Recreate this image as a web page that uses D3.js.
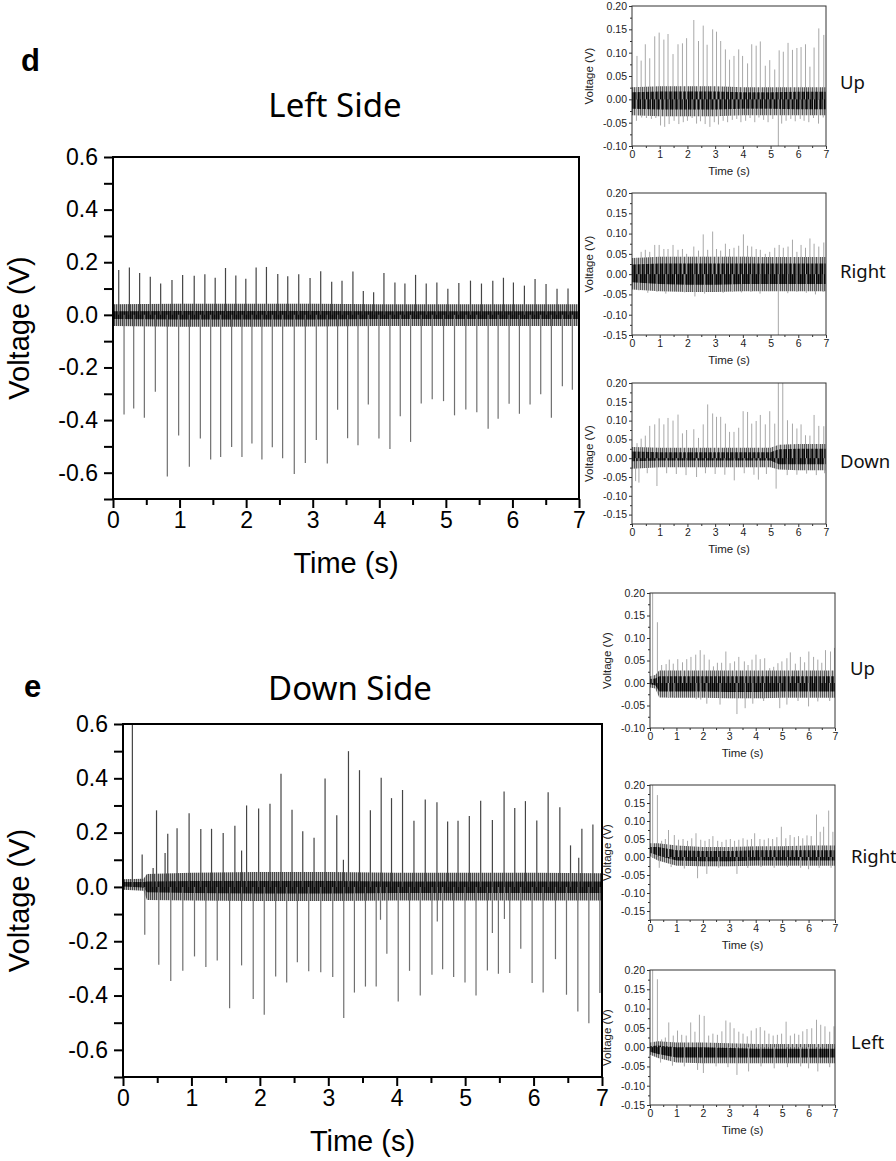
<!DOCTYPE html>
<html><head><meta charset="utf-8">
<script src="https://cdn.jsdelivr.net/npm/d3@7"></script>
<style>body{margin:0;background:#fff}svg{display:block}</style>
</head><body>
<svg id="c" width="896" height="1161"></svg>
<script>
// ---------- shared ticks ----------
const timeTicks = [0,1,2,3,4,5,6,7];
const timeMinor = [0.5,1.5,2.5,3.5,4.5,5.5,6.5];

// ---------- d : Left Side (main) ----------
const dMainPeakT = [0.086,0.246,0.40,0.56,0.716,0.886,1.046,1.22,1.38,1.535,1.69,1.845,1.995,2.15,2.305,2.475,2.625,2.79,2.96,3.12,3.285,3.44,3.604,3.76,3.915,4.07,4.235,4.385,4.545,4.705,4.865,5.03,5.195,5.37,5.535,5.705,5.865,6.015,6.18,6.34,6.505,6.67,6.835];
const dMainPeakV = [0.170,0.180,0.159,0.145,0.119,0.132,0.151,0.149,0.154,0.141,0.178,0.150,0.137,0.180,0.182,0.155,0.147,0.154,0.140,0.166,0.126,0.130,0.165,0.091,0.086,0.159,0.123,0.119,0.152,0.119,0.123,0.099,0.121,0.130,0.119,0.130,0.141,0.123,0.111,0.136,0.117,0.099,0.100];
const dMainTroughT = [0.166,0.311,0.471,0.636,0.816,0.986,1.147,1.312,1.467,1.617,1.782,1.937,2.087,2.237,2.393,2.548,2.723,2.889,3.054,3.219,3.374,3.524,3.68,3.835,3.995,4.16,4.315,4.47,4.63,4.795,4.965,5.13,5.30,5.465,5.635,5.785,5.95,6.105,6.265,6.425,6.585,6.75,6.90];
const dMainTroughV = [-0.379,-0.356,-0.391,-0.292,-0.614,-0.459,-0.577,-0.470,-0.550,-0.540,-0.502,-0.540,-0.489,-0.550,-0.503,-0.545,-0.605,-0.563,-0.476,-0.565,-0.361,-0.469,-0.496,-0.341,-0.470,-0.510,-0.385,-0.483,-0.337,-0.321,-0.328,-0.382,-0.360,-0.370,-0.433,-0.395,-0.338,-0.376,-0.341,-0.302,-0.391,-0.271,-0.285];
const dMainBandT = [0,1,2,3,4,5,6,7];
const dMainOuterHi = [0.040,0.042,0.042,0.042,0.040,0.040,0.040,0.040];
const dMainOuterLo = [-0.042,-0.045,-0.045,-0.044,-0.042,-0.042,-0.042,-0.042];
const dMainCoreHi = [0.014,0.015,0.015,0.015,0.014,0.014,0.014,0.014];
const dMainCoreLo = [-0.016,-0.018,-0.018,-0.018,-0.016,-0.016,-0.016,-0.016];

// ---------- e : Down Side (main) ----------
const eMainPeakT = [0.137,0.28,0.44,0.49,0.615,0.654,0.79,0.966,1.137,1.294,1.464,1.635,1.733,1.806,1.982,2.148,2.309,2.47,2.627,2.792,2.953,3.124,3.221,3.295,3.456,3.615,3.773,3.924,4.085,4.252,4.417,4.588,4.744,4.896,5.061,5.227,5.398,5.569,5.725,5.881,6.047,6.213,6.384,6.54,6.66,6.706,6.867];
const eMainPeakV = [0.65,0.119,0.07,0.282,0.125,0.196,0.216,0.271,0.213,0.214,0.199,0.225,0.134,0.30,0.289,0.306,0.417,0.284,0.205,0.181,0.399,0.264,0.10,0.50,0.43,0.282,0.402,0.327,0.357,0.244,0.322,0.312,0.241,0.244,0.261,0.317,0.246,0.351,0.291,0.316,0.245,0.349,0.293,0.153,0.107,0.214,0.23];
const eMainTroughT = [0.318,0.523,0.698,0.874,1.045,1.211,1.377,1.558,1.733,1.903,2.064,2.231,2.392,2.548,2.714,2.89,3.065,3.226,3.382,3.543,3.70,3.763,3.856,4.022,4.187,4.344,4.515,4.593,4.671,4.832,4.998,5.159,5.325,5.398,5.486,5.574,5.652,5.813,5.979,6.14,6.32,6.481,6.647,6.808,6.969];
const eMainTroughV = [-0.176,-0.287,-0.346,-0.309,-0.256,-0.295,-0.271,-0.447,-0.289,-0.413,-0.471,-0.33,-0.352,-0.277,-0.311,-0.314,-0.332,-0.483,-0.389,-0.367,-0.367,-0.121,-0.246,-0.422,-0.309,-0.40,-0.323,-0.127,-0.303,-0.332,-0.352,-0.40,-0.308,-0.17,-0.32,-0.118,-0.317,-0.228,-0.354,-0.389,-0.266,-0.397,-0.459,-0.502,-0.391];
const eMainBandT = [0,0.3,0.35,1,2,3,4,5,6,7];
const eMainOuterHi = [0.028,0.030,0.048,0.052,0.055,0.055,0.052,0.052,0.052,0.050];
const eMainOuterLo = [-0.010,-0.014,-0.048,-0.050,-0.052,-0.052,-0.050,-0.050,-0.050,-0.050];
const eMainCoreHi = [0.018,0.018,0.020,0.022,0.022,0.022,0.020,0.020,0.020,0.020];
const eMainCoreLo = [0.002,-0.002,-0.020,-0.022,-0.024,-0.024,-0.022,-0.022,-0.022,-0.022];

// ---------- d small : Up ----------
const dUpPeakT = [0.18,0.33,0.48,0.64,0.82,0.98,1.15,1.30,1.48,1.66,1.82,1.97,2.23,2.40,2.57,2.71,2.91,3.05,3.20,3.37,3.52,3.68,3.85,3.99,4.17,4.32,4.48,4.63,4.81,4.97,5.15,5.31,5.46,5.63,5.79,5.95,6.10,6.26,6.42,6.57,6.74,6.92];
const dUpPeakV = [0.093,0.083,0.118,0.088,0.135,0.143,0.128,0.140,0.097,0.118,0.120,0.131,0.170,0.125,0.158,0.117,0.150,0.145,0.125,0.107,0.085,0.093,0.107,0.093,0.077,0.118,0.115,0.124,0.072,0.084,0.064,0.105,0.102,0.121,0.106,0.110,0.112,0.118,0.070,0.111,0.152,0.138];
const dUpTroughT = [0.16,0.35,0.52,0.70,0.86,1.03,1.18,1.34,1.52,1.69,1.85,2.00,2.17,2.33,2.47,2.64,2.81,2.97,3.12,3.29,3.45,3.62,3.78,3.93,4.10,4.26,4.43,4.58,4.75,4.91,5.08,5.28,5.40,5.56,5.73,5.89,6.07,6.21,6.38,6.55,6.73,6.90];
const dUpTroughV = [-0.046,-0.039,-0.040,-0.042,-0.040,-0.056,-0.059,-0.053,-0.046,-0.053,-0.049,-0.046,-0.040,-0.052,-0.047,-0.053,-0.059,-0.049,-0.054,-0.046,-0.049,-0.044,-0.042,-0.049,-0.046,-0.040,-0.049,-0.039,-0.044,-0.049,-0.042,-0.100,-0.052,-0.046,-0.042,-0.047,-0.042,-0.046,-0.049,-0.040,-0.052,-0.039];
const dUpBandT = [0,1,2,3,4,5,6,7];
const dUpOuterHi = [0.026,0.028,0.028,0.028,0.026,0.026,0.026,0.026];
const dUpOuterLo = [-0.034,-0.036,-0.036,-0.036,-0.034,-0.034,-0.034,-0.034];
const dUpCoreHi = [0.015,0.017,0.017,0.017,0.015,0.015,0.016,0.016];
const dUpCoreLo = [-0.020,-0.022,-0.022,-0.022,-0.020,-0.020,-0.021,-0.021];

// ---------- d small : Right ----------
const dRightPeakT = [0.18,0.33,0.48,0.64,0.82,0.98,1.15,1.30,1.48,1.66,1.82,1.97,2.23,2.40,2.57,2.73,2.91,3.05,3.20,3.37,3.52,3.68,3.85,4.02,4.17,4.32,4.48,4.63,4.81,4.97,5.15,5.31,5.46,5.63,5.79,5.95,6.10,6.26,6.42,6.57,6.74,6.92];
const dRightPeakV = [0.040,0.055,0.060,0.055,0.072,0.072,0.062,0.062,0.072,0.060,0.062,0.050,0.068,0.058,0.098,0.060,0.105,0.062,0.058,0.075,0.062,0.065,0.070,0.098,0.070,0.068,0.062,0.060,0.050,0.055,0.065,0.072,0.065,0.068,0.085,0.055,0.072,0.065,0.088,0.075,0.068,0.078];
const dRightTroughT = [0.25,0.57,0.90,1.22,1.57,1.90,2.27,2.62,2.95,3.29,3.62,3.95,4.29,4.62,4.95,5.28,5.62,5.95,6.29,6.62,6.90];
const dRightTroughV = [-0.040,-0.046,-0.044,-0.048,-0.042,-0.045,-0.055,-0.048,-0.044,-0.046,-0.042,-0.045,-0.044,-0.048,-0.042,-0.150,-0.047,-0.044,-0.046,-0.050,-0.044];
const dRightBandT = [0,1,2,3,4,5,6,7];
const dRightOuterHi = [0.040,0.043,0.043,0.043,0.043,0.042,0.042,0.042];
const dRightOuterLo = [-0.038,-0.042,-0.044,-0.044,-0.042,-0.042,-0.042,-0.042];
const dRightCoreHi = [0.024,0.026,0.026,0.026,0.026,0.026,0.026,0.026];
const dRightCoreLo = [-0.020,-0.024,-0.026,-0.026,-0.024,-0.024,-0.024,-0.024];

// ---------- d small : Down ----------
const dDownPeakT = [0.18,0.33,0.48,0.64,0.82,0.98,1.15,1.30,1.48,1.66,1.82,1.97,2.23,2.40,2.57,2.73,2.91,3.05,3.20,3.37,3.52,3.68,3.85,4.01,4.17,4.32,4.48,4.63,4.81,4.97,5.15,5.28,5.44,5.61,5.79,5.95,6.10,6.26,6.42,6.57,6.74,6.92];
const dDownPeakV = [0.040,0.052,0.060,0.086,0.090,0.106,0.090,0.107,0.100,0.116,0.066,0.075,0.077,0.054,0.090,0.143,0.119,0.110,0.110,0.092,0.070,0.070,0.081,0.125,0.123,0.092,0.099,0.115,0.090,0.125,0.092,0.25,0.25,0.101,0.092,0.079,0.090,0.061,0.060,0.115,0.086,0.085];
const dDownTroughT = [0.13,0.25,0.55,0.90,1.25,1.60,1.95,2.33,2.65,3.00,3.35,3.69,4.05,4.40,4.56,4.85,5.20,5.60,5.95,6.30,6.65,6.95];
const dDownTroughV = [-0.061,-0.065,-0.040,-0.074,-0.040,-0.042,-0.045,-0.050,-0.040,-0.042,-0.044,-0.059,-0.040,-0.044,-0.057,-0.042,-0.081,-0.045,-0.044,-0.041,-0.045,-0.040];
const dDownBandT = [0,1,2,3,4,5,5.3,6,7];
const dDownOuterHi = [0.030,0.028,0.028,0.028,0.028,0.028,0.036,0.038,0.038];
const dDownOuterLo = [-0.028,-0.024,-0.024,-0.024,-0.024,-0.024,-0.030,-0.032,-0.032];
const dDownCoreHi = [0.018,0.016,0.016,0.016,0.016,0.016,0.024,0.025,0.025];
const dDownCoreLo = [-0.008,-0.006,-0.006,-0.006,-0.006,-0.006,-0.016,-0.016,-0.016];

// ---------- e small : Up ----------
const eUpPeakT = [0.10,0.28,0.44,0.61,0.73,0.88,1.05,1.23,1.39,1.55,1.73,1.90,2.05,2.24,2.40,2.55,2.71,2.87,3.03,3.20,3.36,3.57,3.71,3.86,4.01,4.17,4.34,4.53,4.68,4.84,4.99,5.18,5.31,5.50,5.69,5.85,6.01,6.19,6.35,6.50,6.64,6.83,6.98];
const eUpPeakV = [0.25,0.135,0.040,0.042,0.052,0.043,0.053,0.046,0.053,0.058,0.063,0.073,0.063,0.052,0.037,0.045,0.045,0.070,0.044,0.048,0.058,0.048,0.040,0.052,0.063,0.053,0.055,0.033,0.036,0.044,0.048,0.055,0.068,0.043,0.058,0.046,0.070,0.058,0.052,0.045,0.073,0.070,0.078];
const eUpTroughT = [0.70,0.91,1.75,1.92,2.15,2.65,3.29,3.60,3.89,4.30,4.91,5.18,5.60,6.00,6.35,6.80];
const eUpTroughV = [-0.033,-0.030,-0.036,-0.037,-0.046,-0.048,-0.069,-0.056,-0.046,-0.040,-0.056,-0.048,-0.040,-0.052,-0.041,-0.040];
const eUpBandT = [0,0.2,0.35,1,2,3,4,5,6,7];
const eUpOuterHi = [0.015,0.018,0.028,0.028,0.028,0.028,0.028,0.028,0.028,0.028];
const eUpOuterLo = [-0.010,-0.012,-0.032,-0.033,-0.033,-0.034,-0.034,-0.033,-0.033,-0.033];
const eUpCoreHi = [0.009,0.010,0.015,0.015,0.015,0.015,0.015,0.015,0.015,0.015];
const eUpCoreLo = [-0.003,-0.005,-0.019,-0.019,-0.019,-0.020,-0.020,-0.019,-0.019,-0.019];

// ---------- e small : Right ----------
const eRightPeakT = [0.10,0.28,0.44,0.58,0.70,0.92,1.08,1.25,1.42,1.58,1.74,1.92,2.08,2.24,2.38,2.56,2.72,2.88,3.04,3.20,3.36,3.52,3.68,3.84,3.96,4.16,4.32,4.48,4.64,4.80,4.97,5.14,5.30,5.46,5.62,5.78,5.94,6.10,6.30,6.44,6.57,6.76,6.92];
const eRightPeakV = [0.25,0.172,0.045,0.050,0.075,0.061,0.048,0.050,0.045,0.052,0.066,0.048,0.045,0.050,0.058,0.045,0.042,0.048,0.050,0.045,0.048,0.052,0.048,0.050,0.066,0.050,0.048,0.052,0.050,0.055,0.084,0.052,0.061,0.055,0.058,0.052,0.060,0.058,0.118,0.070,0.084,0.129,0.070];
const eRightTroughT = [0.35,0.80,1.30,1.80,2.15,2.60,3.29,3.70,4.20,4.70,5.20,5.70,6.00,6.40,6.85];
const eRightTroughV = [-0.030,-0.028,-0.032,-0.059,-0.047,-0.030,-0.047,-0.030,-0.028,-0.030,-0.028,-0.030,-0.034,-0.030,-0.030];
const eRightBandT = [0,0.3,1,2,3,4,5,6,7];
const eRightOuterHi = [0.038,0.038,0.032,0.028,0.028,0.030,0.030,0.032,0.032];
const eRightOuterLo = [0.002,-0.010,-0.024,-0.026,-0.026,-0.024,-0.024,-0.024,-0.024];
const eRightCoreHi = [0.028,0.028,0.019,0.017,0.017,0.019,0.019,0.019,0.019];
const eRightCoreLo = [0.012,0.004,-0.010,-0.012,-0.012,-0.010,-0.010,-0.010,-0.010];

// ---------- e small : Left ----------
const eLeftPeakT = [0.10,0.28,0.44,0.58,0.71,0.88,1.04,1.20,1.37,1.54,1.70,1.87,2.05,2.22,2.38,2.55,2.72,2.87,3.03,3.18,3.36,3.52,3.68,3.83,4.02,4.17,4.34,4.50,4.66,4.82,4.98,5.15,5.31,5.47,5.63,5.78,5.94,6.12,6.30,6.46,6.62,6.80,6.96];
const eLeftPeakV = [0.25,0.176,0.020,0.025,0.064,0.030,0.043,0.032,0.030,0.064,0.040,0.084,0.081,0.030,0.035,0.032,0.041,0.069,0.064,0.049,0.040,0.035,0.028,0.043,0.049,0.052,0.043,0.035,0.030,0.032,0.035,0.066,0.030,0.035,0.032,0.041,0.047,0.049,0.071,0.058,0.054,0.040,0.054];
const eLeftTroughT = [0.40,0.85,1.30,1.80,2.02,2.50,2.95,3.29,3.73,4.20,4.70,5.20,5.70,6.00,6.35,6.80];
const eLeftTroughV = [-0.040,-0.048,-0.050,-0.059,-0.067,-0.050,-0.052,-0.072,-0.063,-0.050,-0.055,-0.052,-0.050,-0.055,-0.063,-0.052];
const eLeftBandT = [0,0.3,1,2,3,4,5,6,7];
const eLeftOuterHi = [0.012,0.015,0.012,0.012,0.010,0.008,0.008,0.008,0.008];
const eLeftOuterLo = [-0.020,-0.028,-0.040,-0.042,-0.042,-0.042,-0.042,-0.042,-0.042];
const eLeftCoreHi = [0.002,0.004,0.000,0.000,-0.002,-0.004,-0.004,-0.004,-0.004];
const eLeftCoreLo = [-0.012,-0.018,-0.027,-0.027,-0.027,-0.027,-0.027,-0.027,-0.027];

// ---------- drawing ----------
const svg = d3.select('#c');
svg.append('rect').attr('width',896).attr('height',1161).attr('fill','#fff');
const defs = svg.append('defs');
function stripes(id, bg, fg) {
  const p = defs.append('pattern').attr('id', id).attr('patternUnits', 'userSpaceOnUse')
    .attr('width', 2).attr('height', 4);
  p.append('rect').attr('width', 2).attr('height', 4).attr('fill', bg);
  p.append('rect').attr('width', 1).attr('height', 4).attr('fill', fg);
}
stripes('mainOuter', '#b4b4b4', '#4a4a4a');
stripes('mainCore', '#3a3a3a', '#0a0a0a');
stripes('smallOuter', '#c4c4c4', '#5a5a5a');
stripes('smallCore', '#3c3c3c', '#050505');

const fmt1 = d => (d < -1e-9 ? '-' : '') + Math.abs(d).toFixed(1);
const fmt2 = d => (d < -1e-9 ? '-' : '') + Math.abs(d).toFixed(2);

function drawSignal(P, x, y, name) {
  defs.append('clipPath').attr('id', 'clip' + name).append('rect')
    .attr('x', P.left).attr('y', P.top).attr('width', P.right - P.left).attr('height', P.bottom - P.top);
  const g = svg.append('g').attr('clip-path', `url(#clip${name})`);
  const band = P.bandT.map((t, i) => ({t, oh: P.outerHi[i], ol: P.outerLo[i], ch: P.coreHi[i], cl: P.coreLo[i]}));
  const peaks = P.peakT.map((t, i) => ({t, v: P.peakV[i]}));
  const troughs = P.troughT.map((t, i) => ({t, v: P.troughV[i]}));
  g.append('path').datum(band)
    .attr('d', d3.area().x(d => x(d.t)).y0(d => y(d.ol)).y1(d => y(d.oh)))
    .attr('fill', P.outerFill);
  g.append('path').datum(band)
    .attr('d', d3.area().x(d => x(d.t)).y0(d => y(d.cl)).y1(d => y(d.ch)))
    .attr('fill', P.coreFill);
  g.selectAll(null).data(troughs).join('line')
    .attr('x1', d => x(d.t)).attr('x2', d => x(d.t))
    .attr('y1', y(0)).attr('y2', d => y(d.v))
    .attr('stroke', P.troughColor).attr('stroke-width', P.spikeW);
  g.selectAll(null).data(peaks).join('line')
    .attr('x1', d => x(d.t)).attr('x2', d => x(d.t))
    .attr('y1', y(0)).attr('y2', d => y(d.v))
    .attr('stroke', P.peakColor).attr('stroke-width', P.spikeW);
}

function mainPanel(P) {
  const x = d3.scaleLinear().domain([0, 7]).range([P.left, P.right]);
  const y = d3.scaleLinear().domain([-0.7, 0.6]).range([P.bottom, P.top]);
  drawSignal(P, x, y, P.name);
  const yVals = d3.range(-7, 7).map(i => i / 10);
  const ya = svg.append('g').attr('transform', `translate(${P.left},0)`)
    .call(d3.axisLeft(y).tickValues(yVals).tickSize(9).tickPadding(6)
      .tickFormat(d => (Math.round(Math.abs(d) * 10) % 2 === 0 ? fmt1(d) : '')));
  const xa = svg.append('g').attr('transform', `translate(0,${P.bottom})`)
    .call(d3.axisBottom(x).tickValues(timeTicks).tickSize(9).tickPadding(4).tickFormat(d3.format('d')));
  const xm = svg.append('g').attr('transform', `translate(0,${P.bottom})`)
    .call(d3.axisBottom(x).tickValues(timeMinor).tickSize(6).tickFormat(''));
  [ya, xa, xm].forEach(a => {
    a.select('.domain').remove();
    a.selectAll('line').attr('stroke', '#000').attr('stroke-width', 2);
    a.selectAll('text').attr('font-family', 'Liberation Sans, Arial, sans-serif').attr('font-size', 23).attr('fill', '#000');
  });
  svg.append('rect').attr('x', P.left).attr('y', P.top).attr('width', P.right - P.left).attr('height', P.bottom - P.top)
    .attr('fill', 'none').attr('stroke', '#000').attr('stroke-width', 2);
  svg.append('text').attr('transform', `translate(29,${(P.top + P.bottom) / 2}) rotate(-90)`)
    .attr('text-anchor', 'middle').attr('font-family', 'Liberation Sans, Arial, sans-serif').attr('font-size', 29).text('Voltage (V)');
  svg.append('text').attr('x', (P.left + P.right) / 2).attr('y', P.bottom + 74)
    .attr('text-anchor', 'middle').attr('font-family', 'Liberation Sans, Arial, sans-serif').attr('font-size', 29).text('Time (s)');
  svg.append('text').attr('x', P.titleX).attr('y', P.titleY).attr('text-anchor', 'middle')
    .attr('font-family', 'Noto Sans, Open Sans, sans-serif').attr('font-size', 33).text(P.title);
  svg.append('text').attr('x', P.letterX).attr('y', P.letterY)
    .attr('font-family', 'Liberation Sans, Arial, sans-serif').attr('font-weight', 'bold').attr('font-size', 31).text(P.letter);
}

function smallPanel(P) {
  const x = d3.scaleLinear().domain([0, 7]).range([P.left, P.right]);
  const y = d3.scaleLinear().domain(P.yDomain).range([P.bottom, P.top]);
  drawSignal(P, x, y, P.name);
  const lo = Math.round(P.yDomain[0] * 40), hi = Math.round(P.yDomain[1] * 40);
  const minorV = d3.range(lo, hi + 1).filter(i => i % 2 !== 0).map(i => i / 40);
  const majorV = d3.range(lo, hi + 1).filter(i => i % 2 === 0).map(i => i / 40);
  const ya = svg.append('g').attr('transform', `translate(${P.left},0)`)
    .call(d3.axisLeft(y).tickValues(majorV).tickSize(3).tickPadding(2).tickFormat(fmt2));
  const ym = svg.append('g').attr('transform', `translate(${P.left},0)`)
    .call(d3.axisLeft(y).tickValues(minorV).tickSize(2).tickFormat(''));
  const xa = svg.append('g').attr('transform', `translate(0,${P.bottom})`)
    .call(d3.axisBottom(x).tickValues(timeTicks).tickSize(3).tickPadding(2).tickFormat(d3.format('d')));
  const xm = svg.append('g').attr('transform', `translate(0,${P.bottom})`)
    .call(d3.axisBottom(x).tickValues(timeMinor).tickSize(2).tickFormat(''));
  [ya, ym, xa, xm].forEach(a => {
    a.select('.domain').remove();
    a.selectAll('line').attr('stroke', '#333').attr('stroke-width', 1);
    a.selectAll('text').attr('font-family', 'Liberation Sans, Arial, sans-serif').attr('font-size', 10.5).attr('fill', '#222');
  });
  svg.append('rect').attr('x', P.left).attr('y', P.top).attr('width', P.right - P.left).attr('height', P.bottom - P.top)
    .attr('fill', 'none').attr('stroke', '#333').attr('stroke-width', 1);
  svg.append('text').attr('transform', `translate(${P.left - 39},${(P.top + P.bottom) / 2}) rotate(-90)`)
    .attr('text-anchor', 'middle').attr('font-family', 'Liberation Sans, Arial, sans-serif').attr('font-size', 11.5).attr('fill', '#222').text('Voltage (V)');
  svg.append('text').attr('x', (P.left + P.right) / 2).attr('y', P.bottom + 29)
    .attr('text-anchor', 'middle').attr('font-family', 'Liberation Sans, Arial, sans-serif').attr('font-size', 11.5).attr('fill', '#222').text('Time (s)');
  svg.append('text').attr('x', P.labelX).attr('y', P.labelY)
    .attr('font-family', 'Noto Sans, Open Sans, sans-serif').attr('font-size', 18.5).attr('fill', '#111').text(P.label);
}

const mainStyle = {peakColor: '#454545', troughColor: '#707070', spikeW: 1.2, outerFill: 'url(#mainOuter)', coreFill: 'url(#mainCore)'};
const smallStyle = {peakColor: '#a8a8a8', troughColor: '#a8a8a8', spikeW: 1, outerFill: 'url(#smallOuter)', coreFill: 'url(#smallCore)'};

mainPanel(Object.assign({name: 'dMain', left: 113, right: 579, top: 157, bottom: 499,
  title: 'Left Side', titleX: 335, titleY: 117, letter: 'd', letterX: 21, letterY: 71,
  peakT: dMainPeakT, peakV: dMainPeakV, troughT: dMainTroughT, troughV: dMainTroughV,
  bandT: dMainBandT, outerHi: dMainOuterHi, outerLo: dMainOuterLo, coreHi: dMainCoreHi, coreLo: dMainCoreLo}, mainStyle));

mainPanel(Object.assign({name: 'eMain', left: 123, right: 602, top: 724, bottom: 1077,
  title: 'Down Side', titleX: 350, titleY: 700, letter: 'e', letterX: 24, letterY: 697,
  peakT: eMainPeakT, peakV: eMainPeakV, troughT: eMainTroughT, troughV: eMainTroughV,
  bandT: eMainBandT, outerHi: eMainOuterHi, outerLo: eMainOuterLo, coreHi: eMainCoreHi, coreLo: eMainCoreLo}, mainStyle));

smallPanel(Object.assign({name: 'dUp', left: 632, right: 826, top: 6, bottom: 146, yDomain: [-0.10, 0.20],
  label: 'Up', labelX: 840, labelY: 89,
  peakT: dUpPeakT, peakV: dUpPeakV, troughT: dUpTroughT, troughV: dUpTroughV,
  bandT: dUpBandT, outerHi: dUpOuterHi, outerLo: dUpOuterLo, coreHi: dUpCoreHi, coreLo: dUpCoreLo}, smallStyle));

smallPanel(Object.assign({name: 'dRight', left: 632, right: 826, top: 193, bottom: 335, yDomain: [-0.15, 0.20],
  label: 'Right', labelX: 840, labelY: 278,
  peakT: dRightPeakT, peakV: dRightPeakV, troughT: dRightTroughT, troughV: dRightTroughV,
  bandT: dRightBandT, outerHi: dRightOuterHi, outerLo: dRightOuterLo, coreHi: dRightCoreHi, coreLo: dRightCoreLo}, smallStyle));

smallPanel(Object.assign({name: 'dDown', left: 632, right: 826, top: 383, bottom: 524, yDomain: [-0.175, 0.20],
  label: 'Down', labelX: 840, labelY: 468,
  peakT: dDownPeakT, peakV: dDownPeakV, troughT: dDownTroughT, troughV: dDownTroughV,
  bandT: dDownBandT, outerHi: dDownOuterHi, outerLo: dDownOuterLo, coreHi: dDownCoreHi, coreLo: dDownCoreLo}, smallStyle));

smallPanel(Object.assign({name: 'eUp', left: 650, right: 835, top: 593, bottom: 728, yDomain: [-0.10, 0.20],
  label: 'Up', labelX: 850, labelY: 675,
  peakT: eUpPeakT, peakV: eUpPeakV, troughT: eUpTroughT, troughV: eUpTroughV,
  bandT: eUpBandT, outerHi: eUpOuterHi, outerLo: eUpOuterLo, coreHi: eUpCoreHi, coreLo: eUpCoreLo}, smallStyle));

smallPanel(Object.assign({name: 'eRight', left: 650, right: 835, top: 785, bottom: 920, yDomain: [-0.175, 0.20],
  label: 'Right', labelX: 851, labelY: 863,
  peakT: eRightPeakT, peakV: eRightPeakV, troughT: eRightTroughT, troughV: eRightTroughV,
  bandT: eRightBandT, outerHi: eRightOuterHi, outerLo: eRightOuterLo, coreHi: eRightCoreHi, coreLo: eRightCoreLo}, smallStyle));

smallPanel(Object.assign({name: 'eLeft', left: 650, right: 835, top: 970, bottom: 1105, yDomain: [-0.15, 0.20],
  label: 'Left', labelX: 851, labelY: 1049,
  peakT: eLeftPeakT, peakV: eLeftPeakV, troughT: eLeftTroughT, troughV: eLeftTroughV,
  bandT: eLeftBandT, outerHi: eLeftOuterHi, outerLo: eLeftOuterLo, coreHi: eLeftCoreHi, coreLo: eLeftCoreLo}, smallStyle));
</script>
</body></html>
